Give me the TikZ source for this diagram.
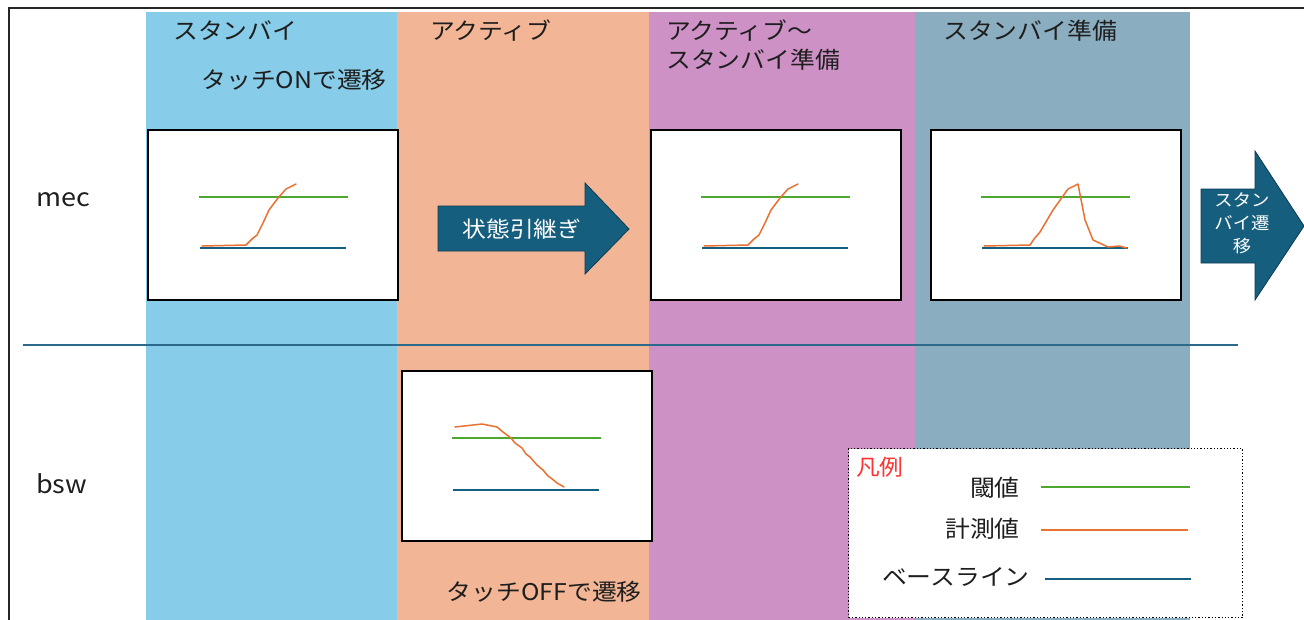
\documentclass[tikz,border=0pt]{standalone}
\usepackage{fontspec}
\setmainfont{Noto Sans CJK JP}[FakeStretch=1.08]
\definecolor{colblue}{RGB}{135,204,232}
\definecolor{colorange}{RGB}{242,182,150}
\definecolor{colpurple}{RGB}{205,145,198}
\definecolor{colgray}{RGB}{138,173,191}
\definecolor{arrowfill}{RGB}{21,94,126}
\definecolor{arrowdraw}{RGB}{12,60,82}
\definecolor{lgreen}{RGB}{78,167,46}
\definecolor{lorange}{RGB}{233,113,50}
\definecolor{lblue}{RGB}{21,96,130}
\definecolor{sepline}{RGB}{43,106,138}
\definecolor{txt}{RGB}{30,30,30}
\definecolor{legred}{RGB}{255,50,50}
\begin{document}
\begin{tikzpicture}[x=1pt,y=-1pt,
  lbl/.style={inner sep=0pt, font=\fontsize{23}{29}\selectfont, text=txt},
  chart/.style={draw=black, line width=1.6pt, fill=white, minimum width=250pt, minimum height=170pt, inner sep=0pt, anchor=north west},
  thr/.style={lgreen, line width=2pt},
  meas/.style={lorange, line width=1.5pt, line join=round, line cap=round},
  base/.style={lblue, line width=2.5pt},
  bigarrow/.style={fill=arrowfill, draw=arrowdraw, line width=0.8pt},
  arrtext/.style={inner sep=0pt, text=white, align=center}]
\useasboundingbox (0,0) rectangle (1304,619);
\clip (0,0) rectangle (1304,619);
% column backgrounds
\fill[colblue]   (146,12) rectangle (397,640);
\fill[colorange] (397,12) rectangle (649,640);
\fill[colpurple] (649,12) rectangle (915,640);
\fill[colgray]   (915,12) rectangle (1190,640);
% outer frame
\draw[line width=1.8pt, draw=black!85] (9,640) -- (9,8) -- (1320,8);
% column titles
\node[lbl, anchor=west] (t1) at (173,31) {スタンバイ};
\node[lbl, anchor=east] (t1b) at (387,80) {タッチONで遷移};
\node[lbl, anchor=west] (t2) at (430,31) {アクティブ};
\node[lbl, anchor=west] (t3) at (666,31) {アクティブ～};
\node[lbl, anchor=west] (t3b) at (666,60) {スタンバイ準備};
\node[lbl, anchor=west] (t4) at (943,31) {スタンバイ準備};
\node[lbl, anchor=east] (t2b) at (642,592) {タッチOFFで遷移};
% row labels
\node[lbl, anchor=west, font=\fontsize{25}{29}\selectfont] (mec) at (36,200) {mec};
\node[lbl, anchor=west, font=\fontsize{25}{29}\selectfont] (bsw) at (36,484) {bsw};
% separator
\coordinate (sepL) at (23,345);
\coordinate (sepR) at (1238,345);
\draw[sepline, line width=1.4pt] (sepL) -- (sepR);
% chart 1
\node[chart] (c1) at (147,129) {};
\begin{scope}[shift={(c1.north west)}]
\draw[thr] (52,68) -- (201,68);
\draw[base] (53,119) -- (199,119);
\draw[meas] (55,117) -- (99,116) -- (105,110) -- (110,106) -- (116,94) -- (122,81) -- (131,69) -- (139,60) -- (149,55);
\end{scope}
% chart 2
\node[chart] (c2) at (650,129) {};
\begin{scope}[shift={(c2.north west)}]
\draw[thr] (51,68) -- (200,68);
\draw[base] (52,119) -- (198,119);
\draw[meas] (54,117) -- (98,116) -- (104,110) -- (109,106) -- (115,94) -- (121,81) -- (130,69) -- (138,60) -- (148,55);
\end{scope}
% chart 3
\node[chart] (c3) at (930,129) {};
\begin{scope}[shift={(c3.north west)}]
\draw[thr] (51,68) -- (200,68);
\draw[base] (52,119) -- (198,119);
\draw[meas] (54,117) -- (100,116) -- (104,110) -- (110,103) -- (123,81) -- (138,60) -- (148,55) -- (155,91) -- (163,111) -- (178,118) -- (189,117) -- (197,119);
\end{scope}
% chart 4 (bsw)
\node[chart] (c4) at (401,370) {};
\begin{scope}[shift={(c4.north west)}]
\draw[thr] (51,68) -- (200,68);
\draw[base] (52,120) -- (198,120);
\draw[meas] (54,57) -- (81,54) -- (96,57) -- (102,62) -- (110,68) -- (114,73) -- (121,78) -- (125,84) -- (129,87) -- (136,95) -- (142,100) -- (147,106) -- (150,108) -- (156,113) -- (163,117);
\end{scope}
% arrow 1
\draw[bigarrow] (438,206) -- (585,206) -- (585,183) -- (629,229) -- (585,274) -- (585,251) -- (438,251) -- cycle;
\node[arrtext, font=\fontsize{22}{26}\selectfont] (a1) at (522,229) {状態引継ぎ};
% arrow 2
\draw[bigarrow] (1201,189) -- (1255,189) -- (1255,151) -- (1304,226) -- (1255,300) -- (1255,263) -- (1201,263) -- cycle;
\node[arrtext, font=\fontsize{17}{23}\selectfont] (a2) at (1242,223) {スタン\\バイ遷\\移};
% legend
\node[draw=black, dotted, line width=1.3pt, fill=white, minimum width=394pt, minimum height=169pt, anchor=north west, inner sep=0pt] (leg) at (848,448) {};
\node[lbl, anchor=west, text=legred, font=\fontsize{22}{26}\selectfont] (legt) at (856,467) {凡例};
\node[lbl, anchor=east] (l1) at (1020,488) {閾値};
\node[lbl, anchor=east] (l2) at (1020,529) {計測値};
\node[lbl, anchor=east] (l3) at (1030,577) {ベースライン};
\coordinate (g1) at (1041,487); \coordinate (g2) at (1190,487);
\coordinate (o1) at (1041,530); \coordinate (o2) at (1188,530);
\coordinate (b1) at (1045,579); \coordinate (b2) at (1191,579);
\draw[thr] (g1) -- (g2);
\draw[meas, line cap=butt] (o1) -- (o2);
\draw[base] (b1) -- (b2);
\end{tikzpicture}
\end{document}
